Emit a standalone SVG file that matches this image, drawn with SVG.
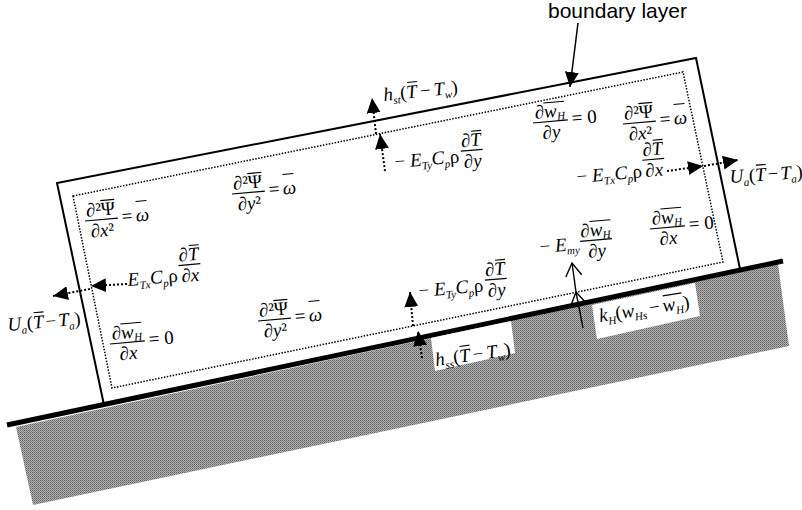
<svg xmlns="http://www.w3.org/2000/svg" width="802" height="510" viewBox="0 0 802 510">
<defs>
<style>
.m{font-family:"Liberation Serif","Times New Roman",serif;font-size:19px;fill:#000}
.i{font-style:italic}
.sb{font-size:11px;font-style:italic}
.bar{stroke:#000;stroke-width:1.2}
.ov{stroke:#000;stroke-width:1.1}
.dl{fill:none;stroke:#000;stroke-width:2;stroke-dasharray:2 2}
.lbl{font-family:"Liberation Sans",Arial,sans-serif;font-size:21px;fill:#000}
</style>
<pattern id="dith" width="2" height="2" patternUnits="userSpaceOnUse">
<rect width="2" height="2" fill="#b4b4b4"/>
<rect width="1" height="1" fill="#5e5e5e"/>
<rect x="1" y="1" width="1" height="1" fill="#7e7e7e"/>
</pattern>
<marker id="ah" markerUnits="userSpaceOnUse" markerWidth="16" markerHeight="16" viewBox="0 0 16 16" refX="15" refY="8" orient="auto">
<path d="M0,1 L15,8 L0,15 z" fill="#000"/>
</marker>
<marker id="oh" markerUnits="userSpaceOnUse" markerWidth="16" markerHeight="18" viewBox="0 0 16 18" refX="14" refY="9" orient="auto">
<path d="M1,1 L14,9 L1,17" fill="none" stroke="#000" stroke-width="1.4"/>
</marker>
</defs>
<rect width="802" height="510" fill="#fff"/>

<g id="ground">
<polygon points="16,427 778,264 789,346 33,505" fill="url(#dith)"/>
</g>

<g id="boundary-layer-box">
<polyline points="104,405 57,183 696,58 740,269" fill="#fff" stroke="#000" stroke-width="2"/>
<polygon points="73,196 683,72 723,262 112,388" fill="none" stroke="#000" stroke-width="1.5" stroke-dasharray="1.5 1.5"/>
</g>

<line id="ground-line" x1="7" y1="425" x2="783" y2="261" stroke="#000" stroke-width="5"/>

<g id="label-boxes">
<polygon points="431,338 511,321 515,353 435,371" fill="#fff"/>
<polygon points="592,305 695,283 700,316 597,339" fill="#fff"/>
</g>

<g id="connectors">
<line class="dl" x1="376" y1="134" x2="372" y2="98" marker-end="url(#ah)"/>
<line class="dl" x1="385" y1="171" x2="380" y2="134" marker-end="url(#ah)"/>
<line class="dl" x1="667" y1="171" x2="703" y2="166" marker-end="url(#ah)"/>
<line class="dl" x1="704" y1="166" x2="738" y2="160" marker-end="url(#ah)"/>
<line class="dl" x1="127" y1="284" x2="91" y2="286" marker-end="url(#ah)"/>
<line class="dl" x1="90" y1="289" x2="53" y2="296" marker-end="url(#ah)"/>
<line class="dl" x1="413" y1="326" x2="410" y2="292" marker-end="url(#ah)"/>
<line class="dl" x1="422" y1="358" x2="418" y2="331" marker-end="url(#ah)"/>
<line x1="583" y1="328" x2="576" y2="292" stroke="#000" stroke-width="1.4" marker-end="url(#oh)"/>
<line x1="576" y1="292" x2="572" y2="263" stroke="#000" stroke-width="1.4" marker-end="url(#oh)"/>
<line x1="578" y1="23" x2="570" y2="87" stroke="#000" stroke-width="1.5" marker-end="url(#ah)"/>
</g>

<g id="label-boundary-layer">
<text class="lbl" x="548" y="18">boundary layer</text>
</g>

<g id="eq-psi-x-left" transform="translate(85,221) rotate(-5)">
<text class="m" x="16.5" y="-4" text-anchor="middle">∂²Ψ</text>
<line class="ov" x1="17" y1="-19" x2="31" y2="-19"/>
<line class="bar" x1="0" y1="0" x2="33" y2="0"/>
<text class="m" x="16.5" y="17" text-anchor="middle">∂<tspan class="i">x</tspan>²</text>
<text class="m" x="37" y="5">=</text>
<text class="m i" x="51" y="5">ω</text>
<line class="ov" x1="52" y1="-15" x2="63" y2="-15"/>
</g>

<g id="eq-psi-y-top" transform="translate(232,194) rotate(-5)">
<text class="m" x="16.5" y="-4" text-anchor="middle">∂²Ψ</text>
<line class="ov" x1="17" y1="-19" x2="31" y2="-19"/>
<line class="bar" x1="0" y1="0" x2="33" y2="0"/>
<text class="m" x="16.5" y="17" text-anchor="middle">∂<tspan class="i">y</tspan>²</text>
<text class="m" x="37" y="5">=</text>
<text class="m i" x="51" y="5">ω</text>
<line class="ov" x1="52" y1="-15" x2="63" y2="-15"/>
</g>

<g id="eq-psi-x-right" transform="translate(623,124) rotate(-5)">
<text class="m" x="16.5" y="-4" text-anchor="middle">∂²Ψ</text>
<line class="ov" x1="17" y1="-19" x2="31" y2="-19"/>
<line class="bar" x1="0" y1="0" x2="33" y2="0"/>
<text class="m" x="16.5" y="17" text-anchor="middle">∂<tspan class="i">x</tspan>²</text>
<text class="m" x="37" y="5">=</text>
<text class="m i" x="51" y="5">ω</text>
<line class="ov" x1="52" y1="-15" x2="63" y2="-15"/>
</g>

<g id="eq-psi-y-bottom" transform="translate(258,321) rotate(-5)">
<text class="m" x="16.5" y="-4" text-anchor="middle">∂²Ψ</text>
<line class="ov" x1="17" y1="-19" x2="31" y2="-19"/>
<line class="bar" x1="0" y1="0" x2="33" y2="0"/>
<text class="m" x="16.5" y="17" text-anchor="middle">∂<tspan class="i">y</tspan>²</text>
<text class="m" x="37" y="5">=</text>
<text class="m i" x="51" y="5">ω</text>
<line class="ov" x1="52" y1="-15" x2="63" y2="-15"/>
</g>

<g id="eq-w-y-top" transform="translate(533,123) rotate(-5)">
<text class="m" x="17.5" y="-4" text-anchor="middle">∂<tspan class="i">w</tspan><tspan class="sb" dy="3">H</tspan></text>
<line class="ov" x1="12" y1="-19" x2="33" y2="-19"/>
<line class="bar" x1="0" y1="0" x2="35" y2="0"/>
<text class="m" x="17.5" y="17" text-anchor="middle">∂<tspan class="i">y</tspan></text>
<text class="m" x="39" y="5">= 0</text>
</g>

<g id="eq-w-x-left" transform="translate(110,344) rotate(-5)">
<text class="m" x="17.5" y="-4" text-anchor="middle">∂<tspan class="i">w</tspan><tspan class="sb" dy="3">H</tspan></text>
<line class="ov" x1="12" y1="-19" x2="33" y2="-19"/>
<line class="bar" x1="0" y1="0" x2="35" y2="0"/>
<text class="m" x="17.5" y="17" text-anchor="middle">∂<tspan class="i">x</tspan></text>
<text class="m" x="39" y="5">= 0</text>
</g>

<g id="eq-w-x-right" transform="translate(650,229) rotate(-5)">
<text class="m" x="17.5" y="-4" text-anchor="middle">∂<tspan class="i">w</tspan><tspan class="sb" dy="3">H</tspan></text>
<line class="ov" x1="12" y1="-19" x2="33" y2="-19"/>
<line class="bar" x1="0" y1="0" x2="35" y2="0"/>
<text class="m" x="17.5" y="17" text-anchor="middle">∂<tspan class="i">x</tspan></text>
<text class="m" x="39" y="5">= 0</text>
</g>

<g id="eq-flux-y-top" transform="translate(395,168) rotate(-5)">
<text class="m" x="0" y="0">− <tspan class="i">E</tspan><tspan class="sb" dy="4">Ty</tspan><tspan class="i" dy="-4">C</tspan><tspan class="sb" dy="4">p</tspan><tspan dy="-4">ρ</tspan></text>
<text class="m" x="78" y="-15" text-anchor="middle">∂<tspan class="i">T</tspan></text>
<line class="ov" x1="79" y1="-30" x2="89" y2="-30"/>
<line class="bar" x1="67" y1="-11" x2="89" y2="-11"/>
<text class="m" x="78" y="6" text-anchor="middle">∂<tspan class="i">y</tspan></text>
</g>

<g id="eq-flux-x-right" transform="translate(577,183) rotate(-5)">
<text class="m" x="0" y="0">− <tspan class="i">E</tspan><tspan class="sb" dy="4">Tx</tspan><tspan class="i" dy="-4">C</tspan><tspan class="sb" dy="4">p</tspan><tspan dy="-4">ρ</tspan></text>
<text class="m" x="78" y="-21" text-anchor="middle">∂<tspan class="i">T</tspan></text>
<line class="ov" x1="79" y1="-36" x2="89" y2="-36"/>
<line class="bar" x1="67" y1="-17" x2="89" y2="-17"/>
<text class="m" x="78" y="0" text-anchor="middle">∂<tspan class="i">x</tspan></text>
</g>

<g id="eq-flux-x-left" transform="translate(128,286) rotate(-5)">
<text class="m" x="0" y="0"><tspan class="i">E</tspan><tspan class="sb" dy="4">Tx</tspan><tspan class="i" dy="-4">C</tspan><tspan class="sb" dy="4">p</tspan><tspan dy="-4">ρ</tspan></text>
<text class="m" x="63" y="-20" text-anchor="middle">∂<tspan class="i">T</tspan></text>
<line class="ov" x1="64" y1="-35" x2="74" y2="-35"/>
<line class="bar" x1="52" y1="-16" x2="74" y2="-16"/>
<text class="m" x="63" y="1" text-anchor="middle">∂<tspan class="i">x</tspan></text>
</g>

<g id="eq-flux-y-bottom" transform="translate(419,297) rotate(-5)">
<text class="m" x="0" y="0">− <tspan class="i">E</tspan><tspan class="sb" dy="4">Ty</tspan><tspan class="i" dy="-4">C</tspan><tspan class="sb" dy="4">p</tspan><tspan dy="-4">ρ</tspan></text>
<text class="m" x="78" y="-15" text-anchor="middle">∂<tspan class="i">T</tspan></text>
<line class="ov" x1="79" y1="-30" x2="89" y2="-30"/>
<line class="bar" x1="67" y1="-11" x2="89" y2="-11"/>
<text class="m" x="78" y="6" text-anchor="middle">∂<tspan class="i">y</tspan></text>
</g>

<g id="eq-flux-w" transform="translate(540,253) rotate(-5)">
<text class="m" x="0" y="0">− <tspan class="i">E</tspan><tspan class="sb" dy="4">my</tspan></text>
<text class="m" x="57" y="-12" text-anchor="middle">∂<tspan class="i">w</tspan><tspan class="sb" dy="3">H</tspan></text>
<line class="ov" x1="52" y1="-27" x2="73" y2="-27"/>
<line class="bar" x1="41" y1="-8" x2="73" y2="-8"/>
<text class="m" x="57" y="9" text-anchor="middle">∂<tspan class="i">y</tspan></text>
</g>

<g id="eq-hst" transform="translate(384,101) rotate(-6)">
<text class="m" x="0" y="0"><tspan class="i">h</tspan><tspan class="sb" dy="4">st</tspan><tspan dy="-4">(</tspan><tspan class="i">T</tspan><tspan dx="3">−</tspan><tspan class="i" dx="3">T</tspan><tspan class="sb" dy="4">w</tspan><tspan dy="-4">)</tspan></text>
<line class="ov" x1="25" y1="-16" x2="35" y2="-16"/>
</g>

<g id="eq-hss" transform="translate(436,366) rotate(-8)">
<text class="m" x="0" y="0"><tspan class="i">h</tspan><tspan class="sb" dy="4">ss</tspan><tspan dy="-4">(</tspan><tspan class="i">T</tspan><tspan dx="3">−</tspan><tspan class="i" dx="3">T</tspan><tspan class="sb" dy="4">w</tspan><tspan dy="-4">)</tspan></text>
<line class="ov" x1="26" y1="-16" x2="36" y2="-16"/>
</g>

<g id="eq-ua-left" transform="translate(8,331) rotate(-5)">
<text class="m" x="0" y="0"><tspan class="i">U</tspan><tspan class="sb" dy="4">a</tspan><tspan dy="-4">(</tspan><tspan class="i">T</tspan><tspan dx="2">−</tspan><tspan class="i" dx="2">T</tspan><tspan class="sb" dy="4">a</tspan><tspan dy="-4">)</tspan></text>
<line class="ov" x1="27" y1="-16" x2="37" y2="-16"/>
</g>

<g id="eq-ua-right" transform="translate(730,183) rotate(-4)">
<text class="m" x="0" y="0"><tspan class="i">U</tspan><tspan class="sb" dy="4">a</tspan><tspan dy="-4">(</tspan><tspan class="i">T</tspan><tspan dx="2">−</tspan><tspan class="i" dx="2">T</tspan><tspan class="sb" dy="4">a</tspan><tspan dy="-4">)</tspan></text>
<line class="ov" x1="27" y1="-16" x2="37" y2="-16"/>
</g>

<g id="eq-kh" transform="translate(600,322) rotate(-9)">
<text class="m" x="0" y="0"><tspan class="i">k</tspan><tspan class="sb" dy="4">H</tspan><tspan dy="-4">(</tspan><tspan class="i">w</tspan><tspan class="sb" dy="4">Hs</tspan><tspan dy="-4" dx="3">−</tspan><tspan class="i" dx="3">w</tspan><tspan class="sb" dy="4">H</tspan><tspan dy="-4">)</tspan></text>
<line class="ov" x1="66" y1="-16" x2="85" y2="-16"/>
</g>
</svg>
